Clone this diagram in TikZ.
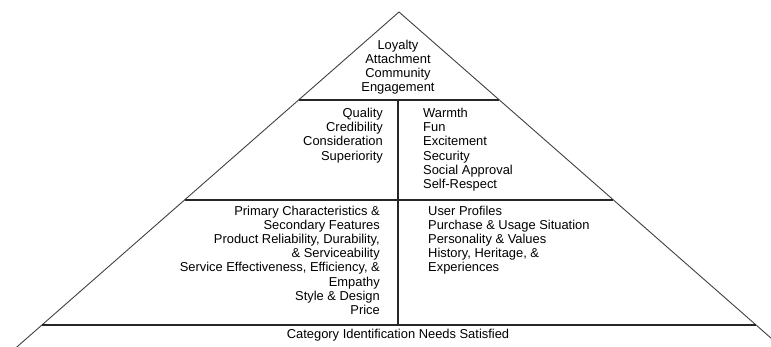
\documentclass[tikz,border=0pt]{standalone}
\usepackage{fontspec}
\setmainfont{Liberation Sans}
\begin{document}
\begin{tikzpicture}[x=1pt,y=-1pt,
  txt/.style={font=\fontsize{12.9}{14.2}\selectfont, inner sep=0pt},
  edge/.style={draw=black!75, line width=0.9pt},
  level/.style={draw=black!85, line width=1.3pt}]
\useasboundingbox (0,0) rectangle (771,347);
\clip (0,0) rectangle (771,347);

\coordinate (apex) at (399,12);
\coordinate (bl) at (2,360);
\coordinate (br) at (796,360);
\coordinate (l1) at (298.7,100);
\coordinate (r1) at (499.3,100);
\coordinate (l2) at (184.7,200);
\coordinate (r2) at (613.3,200);
\coordinate (l3) at (42.2,325);
\coordinate (r3) at (755.8,325);
\coordinate (mtop) at (398,100);
\coordinate (mbot) at (398,325);

\draw[edge] (bl) -- (apex) -- (br);
\draw[level] (l1) -- (r1);
\draw[level] (l2) -- (r2);
\draw[level] (l3) -- (r3);
\draw[level] (mtop) -- (mbot);

\node[txt, align=center, anchor=north] (loyalty) at (398,39.5)
  {Loyalty\\Attachment\\Community\\Engagement};
\node[txt, align=right, anchor=north east] (quality) at (383,108)
  {Quality\\Credibility\\Consideration\\Superiority};
\node[txt, align=left, anchor=north west] (warmth) at (423,108)
  {Warmth\\Fun\\Excitement\\Security\\Social Approval\\Self-Respect};
\node[txt, align=right, anchor=north east] (perf) at (380,205.5)
  {Primary Characteristics \&\\Secondary Features\\Product Reliability, Durability,\\\& Serviceability\\Service Effectiveness, Efficiency, \&\\Empathy\\Style \& Design\\Price};
\node[txt, align=left, anchor=north west] (imagery) at (428,205.5)
  {User Profiles\\Purchase \& Usage Situation\\Personality \& Values\\History, Heritage, \&\\Experiences};
\node[txt] (salience) at (398,335.5) {Category Identification Needs Satisfied};
\end{tikzpicture}
\end{document}
